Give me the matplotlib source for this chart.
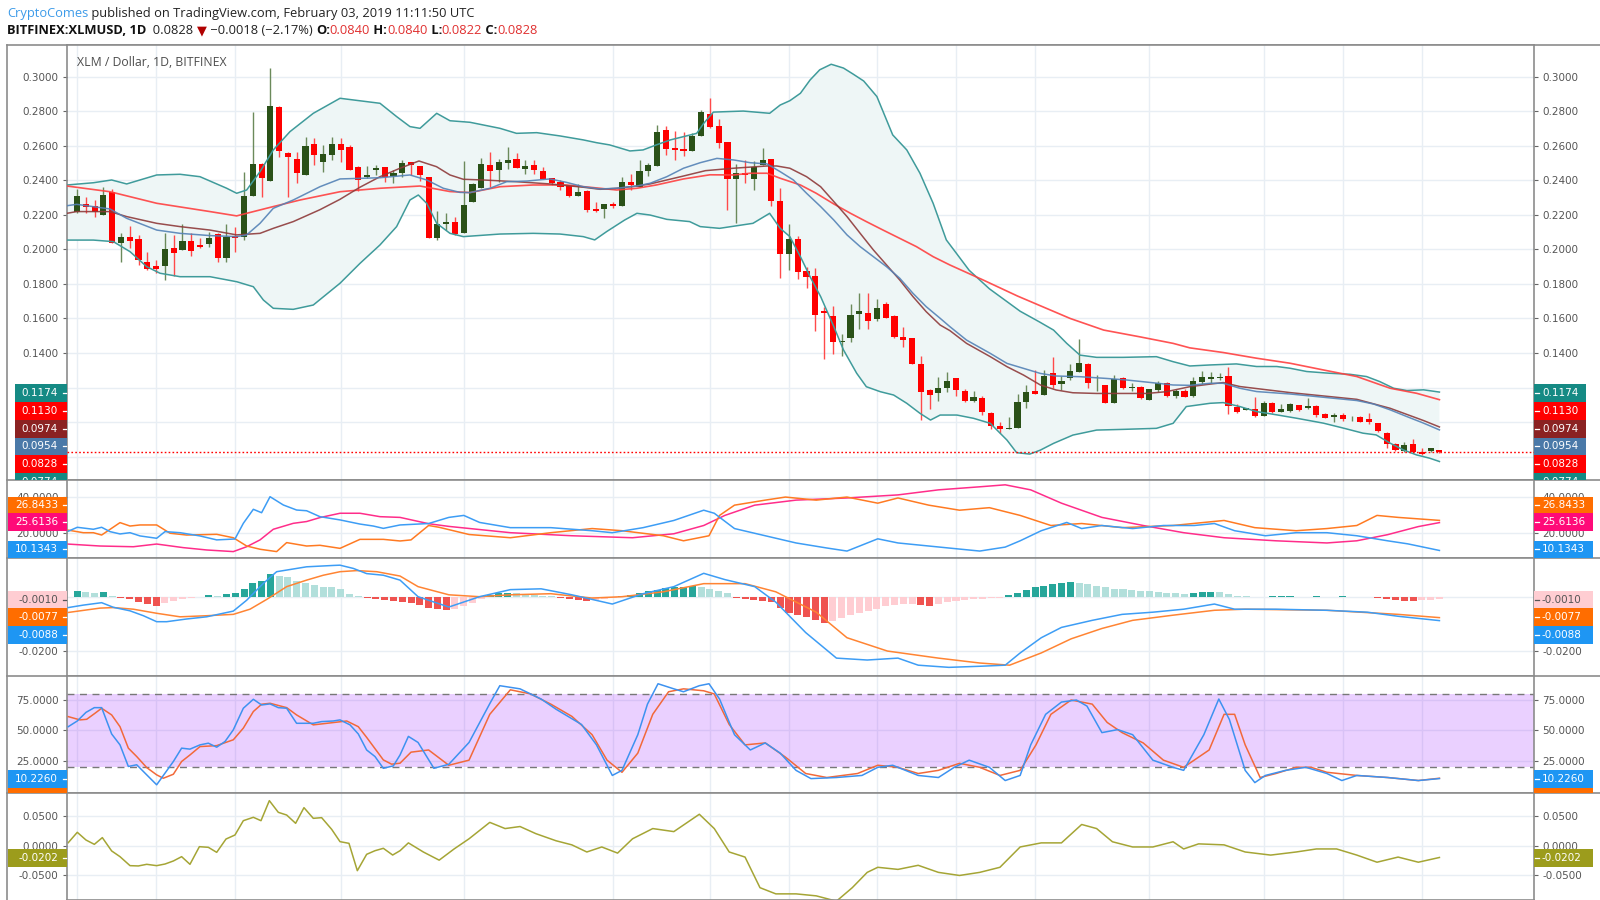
import numpy as np
import matplotlib
matplotlib.use("Agg")
import matplotlib.pyplot as plt
from matplotlib.patches import Rectangle
from matplotlib.lines import Line2D
from matplotlib.ticker import FormatStrFormatter
from matplotlib.transforms import Bbox, TransformedBbox

# ---------------- data ----------------
# daily candles, 156 days, index 0 = first visible day
opens = [
    0.2218, 0.2263, 0.2253, 0.2199, 0.2330, 0.2035, 0.2074, 0.2060, 0.1925, 0.1904,
    0.1906, 0.2006, 0.1996, 0.2049, 0.2025, 0.2029, 0.2087, 0.1948, 0.2078, 0.2074,
    0.2309, 0.2492, 0.2398, 0.2822, 0.2560, 0.2521, 0.2431, 0.2608, 0.2508, 0.2546,
    0.2608, 0.2591, 0.2475, 0.2421, 0.2460, 0.2479, 0.2425, 0.2440, 0.2504, 0.2483,
    0.2421, 0.2064, 0.2147, 0.2161, 0.2093, 0.2277, 0.2358, 0.2489, 0.2460, 0.2502,
    0.2524, 0.2468, 0.2487, 0.2454, 0.2412, 0.2390, 0.2367, 0.2309, 0.2338, 0.2232,
    0.2234, 0.2263, 0.2253, 0.2392, 0.2363, 0.2454, 0.2485, 0.2691, 0.2585, 0.2580,
    0.2570, 0.2657, 0.2782, 0.2715, 0.2620, 0.2406, 0.2444, 0.2406, 0.2487, 0.2524,
    0.2282, 0.1974, 0.2060, 0.1877, 0.1846, 0.1645, 0.1616, 0.1462, 0.1485, 0.1626,
    0.1630, 0.1595, 0.1684, 0.1616, 0.1491, 0.1485, 0.1337, 0.1186, 0.1167, 0.1196,
    0.1257, 0.1180, 0.1122, 0.1141, 0.1051, 0.0977, 0.0962, 0.0968, 0.1114, 0.1180,
    0.1157, 0.1282, 0.1218, 0.1253, 0.1292, 0.1336, 0.1224, 0.1215, 0.1108, 0.1257,
    0.1199, 0.1205, 0.1128, 0.1186, 0.1228, 0.1151, 0.1180, 0.1151, 0.1234, 0.1250,
    0.1258, 0.1269, 0.1090, 0.1073, 0.1076, 0.1038, 0.1113, 0.1061, 0.1065, 0.1100,
    0.1080, 0.1096, 0.1048, 0.1032, 0.1042, 0.1021, 0.1032, 0.1017, 0.0997, 0.0939,
    0.0874, 0.0830, 0.0874, 0.0826, 0.0833, 0.0840]
highs = [
    0.2348, 0.2305, 0.2286, 0.2363, 0.2348, 0.2093, 0.2137, 0.2083, 0.1987, 0.1938,
    0.2097, 0.2083, 0.2145, 0.2097, 0.2064, 0.2103, 0.2093, 0.2145, 0.2132, 0.2450,
    0.2797, 0.2502, 0.3048, 0.2830, 0.2566, 0.2566, 0.2653, 0.2643, 0.2604, 0.2653,
    0.2643, 0.2604, 0.2483, 0.2483, 0.2489, 0.2479, 0.2460, 0.2518, 0.2508, 0.2483,
    0.2421, 0.2222, 0.2209, 0.2190, 0.2512, 0.2383, 0.2531, 0.2562, 0.2524, 0.2591,
    0.2556, 0.2518, 0.2518, 0.2479, 0.2416, 0.2402, 0.2373, 0.2377, 0.2344, 0.2273,
    0.2261, 0.2277, 0.2421, 0.2435, 0.2518, 0.2499, 0.2720, 0.2715, 0.2688, 0.2682,
    0.2672, 0.2807, 0.2875, 0.2753, 0.2620, 0.2493, 0.2518, 0.2512, 0.2585, 0.2524,
    0.2354, 0.2145, 0.2080, 0.1900, 0.1891, 0.1669, 0.1674, 0.1510, 0.1682, 0.1746,
    0.1746, 0.1713, 0.1697, 0.1620, 0.1549, 0.1485, 0.1385, 0.1190, 0.1263, 0.1292,
    0.1257, 0.1189, 0.1182, 0.1151, 0.1056, 0.1002, 0.1027, 0.1162, 0.1215, 0.1301,
    0.1301, 0.1379, 0.1267, 0.1334, 0.1479, 0.1340, 0.1272, 0.1215, 0.1272, 0.1263,
    0.1228, 0.1209, 0.1189, 0.1240, 0.1234, 0.1189, 0.1189, 0.1259, 0.1296, 0.1293,
    0.1283, 0.1322, 0.1103, 0.1084, 0.1148, 0.1123, 0.1119, 0.1105, 0.1113, 0.1100,
    0.1138, 0.1100, 0.1051, 0.1051, 0.1051, 0.1038, 0.1036, 0.1055, 0.0997, 0.0945,
    0.0878, 0.0887, 0.0901, 0.0849, 0.0853, 0.0840]
lows = [
    0.2210, 0.2209, 0.2189, 0.2199, 0.2035, 0.1925, 0.2006, 0.1910, 0.1880, 0.1865,
    0.1823, 0.1846, 0.1996, 0.1962, 0.2006, 0.2016, 0.1929, 0.1929, 0.1983, 0.2054,
    0.2309, 0.2301, 0.2398, 0.2533, 0.2305, 0.2382, 0.2431, 0.2489, 0.2450, 0.2518,
    0.2508, 0.2460, 0.2338, 0.2411, 0.2431, 0.2392, 0.2386, 0.2421, 0.2431, 0.2398,
    0.2064, 0.2054, 0.2112, 0.2083, 0.2093, 0.2277, 0.2358, 0.2363, 0.2392, 0.2464,
    0.2470, 0.2437, 0.2435, 0.2410, 0.2373, 0.2344, 0.2306, 0.2309, 0.2215, 0.2219,
    0.2180, 0.2242, 0.2253, 0.2344, 0.2363, 0.2425, 0.2485, 0.2547, 0.2518, 0.2543,
    0.2570, 0.2657, 0.2705, 0.2589, 0.2228, 0.2155, 0.2383, 0.2344, 0.2487, 0.2253,
    0.1833, 0.1881, 0.1827, 0.1775, 0.1530, 0.1364, 0.1395, 0.1383, 0.1466, 0.1537,
    0.1537, 0.1586, 0.1601, 0.1485, 0.1437, 0.1335, 0.1012, 0.1074, 0.1124, 0.1176,
    0.1153, 0.1118, 0.1118, 0.1041, 0.0958, 0.0939, 0.0962, 0.0968, 0.1083, 0.1162,
    0.1157, 0.1195, 0.1186, 0.1244, 0.1292, 0.1195, 0.1182, 0.1108, 0.1108, 0.1189,
    0.1180, 0.1132, 0.1128, 0.1172, 0.1147, 0.1137, 0.1147, 0.1143, 0.1220, 0.1225,
    0.1241, 0.1048, 0.1051, 0.1071, 0.1028, 0.1038, 0.1055, 0.1061, 0.1061, 0.1067,
    0.1076, 0.1032, 0.1022, 0.0999, 0.1007, 0.1009, 0.0999, 0.0990, 0.0945, 0.0853,
    0.0835, 0.0829, 0.0820, 0.0810, 0.0829, 0.0822]
closes = [
    0.2309, 0.2247, 0.2218, 0.2315, 0.2035, 0.2074, 0.2050, 0.1938, 0.1886, 0.1884,
    0.2000, 0.1981, 0.2049, 0.1993, 0.2016, 0.2068, 0.1948, 0.2074, 0.2068, 0.2309,
    0.2492, 0.2411, 0.2830, 0.2572, 0.2533, 0.2440, 0.2600, 0.2546, 0.2552, 0.2608,
    0.2575, 0.2460, 0.2402, 0.2431, 0.2469, 0.2417, 0.2444, 0.2498, 0.2489, 0.2431,
    0.2064, 0.2147, 0.2159, 0.2089, 0.2257, 0.2379, 0.2495, 0.2454, 0.2508, 0.2518,
    0.2473, 0.2483, 0.2460, 0.2410, 0.2387, 0.2363, 0.2309, 0.2334, 0.2228, 0.2222,
    0.2261, 0.2252, 0.2388, 0.2373, 0.2456, 0.2487, 0.2682, 0.2581, 0.2576, 0.2568,
    0.2657, 0.2794, 0.2711, 0.2618, 0.2408, 0.2444, 0.2431, 0.2475, 0.2518, 0.2282,
    0.1974, 0.2058, 0.1867, 0.1838, 0.1620, 0.1634, 0.1462, 0.1472, 0.1620, 0.1645,
    0.1586, 0.1659, 0.1601, 0.1491, 0.1475, 0.1335, 0.1176, 0.1157, 0.1196, 0.1238,
    0.1186, 0.1122, 0.1147, 0.1060, 0.0979, 0.0962, 0.0968, 0.1118, 0.1176, 0.1162,
    0.1269, 0.1215, 0.1240, 0.1296, 0.1344, 0.1224, 0.1228, 0.1108, 0.1247, 0.1195,
    0.1205, 0.1137, 0.1189, 0.1228, 0.1151, 0.1178, 0.1147, 0.1240, 0.1263, 0.1262,
    0.1264, 0.1094, 0.1057, 0.1080, 0.1036, 0.1109, 0.1061, 0.1076, 0.1105, 0.1071,
    0.1096, 0.1042, 0.1026, 0.1040, 0.1017, 0.1026, 0.1003, 0.1000, 0.0951, 0.0872,
    0.0839, 0.0868, 0.0826, 0.0816, 0.0849, 0.0828]

# overlay lines, sampled as (candle index, value)
bb_upper = [(-1.14, .2373), (1.86, .2386), (3.94, .2402), (5.65, .2379), (9.07, .2431), (11.72, .2435),
            (13.99, .2421), (17.03, .2354), (18.16, .2325), (19.3, .2344), (20.82, .2450), (22.33, .2576),
            (24.23, .2682), (26.88, .2788), (29.92, .2875), (34.47, .2846), (36.36, .2769), (37.88, .2711),
            (39.02, .2701), (40.92, .2788), (42.43, .2745), (44.71, .2736), (48.12, .2701), (50.0, .2672),
            (52.3, .2676), (54.95, .2657), (57.6, .2634), (59.1, .2618), (60.6, .2605), (62.9, .2570),
            (64.4, .2576), (65.9, .2605), (67.5, .2634), (69.0, .2653), (70.5, .2672), (71.3, .2730),
            (72.4, .2795), (75.8, .2801), (78.8, .2788), (80.0, .2836), (81.1, .2861), (82.3, .2904),
            (83.4, .2981), (84.5, .3040), (85.8, .3072), (87.2, .3050), (88.3, .3015), (89.5, .2975),
            (91.0, .2885), (92.8, .2663), (94.4, .2576), (95.9, .2441), (97.4, .2267), (98.9, .2055),
            (101.5, .1879), (103.8, .1772), (107.3, .1642), (109.5, .1580), (111.1, .1533), (112.6, .1456),
            (114.1, .1388), (116.0, .1375), (119.0, .1375), (122.8, .1379), (124.7, .1350), (126.6, .1325),
            (128.9, .1331), (131.9, .1337), (134.2, .1322), (136.5, .1322), (138.0, .1312), (139.9, .1293),
            (142.5, .1283), (144.8, .1277), (146.7, .1264), (148.2, .1235), (149.8, .1196), (151.3, .1183),
            (153.2, .1187), (155.0, .1174)]
bb_lower = [(-1.14, .2054), (1.86, .2054), (4.13, .2045), (6.03, .1987), (7.93, .1900), (9.44, .1862),
            (11.72, .1842), (15.13, .1842), (18.16, .1813), (20.06, .1784), (21.2, .1707), (22.33, .1659),
            (24.6, .1653), (26.88, .1678), (29.92, .1804), (32.19, .1919), (34.47, .2026), (36.36, .2132),
            (37.88, .2286), (38.83, .2315), (39.78, .2267), (40.92, .2151), (42.43, .2093), (43.95, .2074),
            (48.12, .2089), (51.9, .2093), (54.95, .2089), (57.6, .2074), (58.9, .2055), (60.25, .2103),
            (62.3, .2170), (63.7, .2209), (65.2, .2199), (67.1, .2174), (69.7, .2161), (70.9, .2132),
            (73.1, .2122), (76.9, .2151), (78.8, .2209), (80.0, .2122), (81.1, .2074), (82.3, .1958),
            (83.4, .1842), (84.6, .1727), (86.1, .1553), (87.2, .1418), (88.7, .1283), (89.8, .1205),
            (91.4, .1176), (92.9, .1157), (94.4, .1109), (95.9, .1051), (97.1, .1012), (98.2, .1041),
            (100.1, .1041), (102.0, .1022), (103.9, .0993), (105.8, .0896), (106.9, .0823), (108.4, .0815),
            (109.6, .0838), (111.1, .0877), (113.3, .0925), (116.0, .0954), (119.0, .0958), (122.8, .0964),
            (124.7, .0993), (126.2, .1090), (128.9, .1109), (130.4, .1113), (132.3, .1090), (134.2, .1061),
            (136.5, .1042), (138.8, .1022), (141.8, .0994), (144.1, .0965), (146.3, .0936), (147.8, .0926),
            (149.4, .0878), (150.9, .0839), (152.4, .0810), (153.9, .0791), (155.0, .0772)]
ma_blue = [(-1.14, .2253), (-0.04, .2261), (3.75, .2234), (5.65, .2180), (9.07, .2112), (11.72, .2093),
           (15.13, .2080), (18.16, .2074), (19.3, .2084), (20.82, .2151), (22.33, .2238), (24.6, .2286),
           (27.64, .2363), (29.92, .2408), (34.47, .2415), (37.88, .2431), (39.78, .2402), (41.67, .2354),
           (43.57, .2330), (44.71, .2329), (46.98, .2354), (48.88, .2392), (51.2, .2396), (53.8, .2408),
           (55.7, .2388), (57.6, .2363), (59.5, .2350), (61.4, .2354), (63.7, .2367), (65.2, .2383),
           (67.1, .2421), (69.0, .2470), (70.9, .2502), (72.8, .2527), (74.7, .2518), (76.6, .2502),
           (78.5, .2495), (80.0, .2450), (81.5, .2402), (83.0, .2325), (84.6, .2248), (86.1, .2170),
           (87.6, .2084), (89.1, .2016), (90.6, .1958), (92.1, .1900), (93.6, .1833), (95.1, .1746),
           (96.6, .1669), (98.2, .1601), (99.3, .1553), (101.2, .1475), (103.9, .1398), (105.8, .1340),
           (107.7, .1311), (109.6, .1282), (111.4, .1267), (114.1, .1263), (117.1, .1253), (119.4, .1244),
           (122.4, .1228), (124.7, .1215), (126.6, .1213), (128.9, .1225), (130.4, .1225), (132.3, .1196),
           (134.2, .1177), (138.0, .1163), (141.8, .1144), (145.6, .1125), (147.5, .1105), (149.4, .1071),
           (151.3, .1032), (153.2, .0994), (155.0, .0955)]
ma_brown = [(-1.14, .2209), (-0.04, .2219), (3.75, .2219), (5.65, .2190), (9.07, .2151), (11.72, .2132),
            (15.13, .2112), (18.16, .2084), (20.82, .2093), (22.33, .2122), (24.6, .2161), (27.64, .2230),
            (29.92, .2290), (32.19, .2360), (34.47, .2421), (36.7, .2469), (38.9, .2512), (40.9, .2479),
            (42.43, .2431), (43.95, .2406), (46.2, .2402), (50.0, .2392), (53.8, .2379), (57.6, .2360),
            (59.5, .2348), (61.4, .2354), (63.7, .2367), (65.2, .2379), (67.1, .2402), (69.0, .2425),
            (71.5, .2456), (74.7, .2470), (78.5, .2483), (79.6, .2483), (81.1, .2470), (83.0, .2421),
            (84.6, .2363), (86.1, .2277), (87.6, .2190), (89.1, .2093), (90.6, .1997), (92.1, .1910),
            (93.6, .1823), (95.1, .1727), (96.6, .1640), (98.2, .1562), (99.3, .1530), (101.2, .1456),
            (103.9, .1379), (105.8, .1321), (107.7, .1272), (109.6, .1215), (111.4, .1186), (113.3, .1170),
            (116.0, .1166), (119.0, .1166), (121.7, .1166), (123.9, .1176), (126.6, .1205), (128.9, .1220),
            (130.4, .1229), (132.3, .1206), (138.0, .1171), (145.6, .1132), (149.4, .1080), (153.2, .1009),
            (155.0, .0972)]
ma_red = [(-1.14, .2367), (3.75, .2334), (9.07, .2267), (15.13, .2219), (18.16, .2194), (19.3, .2209),
          (22.33, .2248), (25.37, .2286), (29.92, .2334), (34.47, .2354), (39.02, .2367), (42.43, .2335),
          (44.71, .2329), (48.12, .2363), (51.9, .2373), (55.7, .2373), (59.5, .2354), (61.4, .2344),
          (63.7, .2354), (65.9, .2373), (69.0, .2408), (72.0, .2432), (74.7, .2431), (76.6, .2441),
          (78.5, .2441), (80.0, .2412), (82.3, .2373), (84.1, .2325), (86.1, .2263), (88.0, .2209),
          (89.8, .2161), (91.7, .2112), (93.6, .2064), (95.5, .2016), (97.4, .1958), (99.3, .1910),
          (103.0, .1825), (107.0, .1730), (110.0, .1665), (113.0, .1600), (116.8, .1533), (120.9, .1494),
          (124.7, .1456), (126.6, .1430), (130.4, .1403), (134.2, .1370), (138.0, .1341), (141.8, .1302),
          (145.6, .1264), (149.4, .1196), (152.4, .1167), (155.0, .1130)]
last_price = 0.0828

# DMI panel
dmi_plus = [(-1.1, 20.6), (0.03, 23.0), (1.86, 21.9), (2.8, 23.0), (3.75, 20.6), (4.89, 19.3), (6.03, 20.0),
            (7.17, 18.2), (9.06, 16.9), (10.01, 20.6), (11.72, 20.0), (13.99, 18.2), (15.89, 16.0),
            (17.97, 16.5), (18.92, 25.2), (20.06, 33.0), (21.0, 31.1), (21.96, 40.0), (23.47, 35.4),
            (24.98, 32.6), (26.12, 32.2), (27.64, 28.9), (29.92, 27.1), (32.19, 24.8), (33.71, 23.7),
            (34.85, 22.4), (36.75, 24.3), (40.0, 25.1), (42.3, 28.5), (44.0, 29.6), (45.8, 25.7),
            (49.3, 22.8), (53.9, 22.8), (58.6, 21.1), (60.9, 20.0), (64.4, 22.8), (67.9, 26.8),
            (71.3, 32.5), (72.5, 30.8), (74.8, 22.3), (78.3, 18.3), (81.8, 14.3), (85.3, 11.5),
            (87.6, 9.8), (91.1, 16.6), (93.4, 14.3), (96.9, 12.6), (100.4, 10.9), (102.7, 9.8),
            (105.6, 12.0), (107.3, 15.5), (109.7, 21.1), (112.6, 25.7), (114.3, 22.3), (116.6, 24.0),
            (120.1, 22.3), (123.6, 24.0), (127.1, 24.0), (129.4, 25.1), (131.7, 21.1), (135.2, 18.3),
            (138.7, 20.0), (142.2, 20.0), (145.6, 18.3), (149.1, 15.5), (151.4, 13.8), (155.0, 10.13)]
dmi_minus = [(-1.1, 21.5), (0.71, 20.0), (1.86, 20.0), (2.8, 18.7), (4.89, 25.6), (6.03, 23.7), (7.17, 24.3),
             (9.06, 24.3), (10.58, 19.7), (12.47, 18.7), (15.89, 19.1), (17.78, 17.2), (19.3, 12.6),
             (20.82, 10.8), (22.71, 9.5), (23.85, 14.5), (26.12, 12.6), (27.64, 13.0), (29.92, 11.3),
             (32.19, 16.3), (34.85, 16.3), (36.75, 15.4), (38.0, 16.0), (40.0, 24.0), (41.2, 23.0),
             (44.6, 19.0), (49.3, 17.2), (53.9, 20.0), (58.6, 22.3), (62.0, 21.1), (66.7, 18.3),
             (69.0, 15.5), (71.9, 18.3), (73.1, 29.6), (74.8, 35.3), (78.3, 38.1), (80.6, 39.8),
             (84.1, 38.1), (87.6, 39.8), (91.1, 36.4), (93.4, 39.3), (96.9, 35.3), (100.4, 32.5),
             (103.8, 33.9), (107.3, 29.6), (110.8, 24.0), (114.3, 25.1), (118.9, 22.8), (124.7, 24.0),
             (130.5, 26.8), (134.0, 22.8), (138.7, 21.1), (142.2, 22.3), (145.6, 24.0), (147.9, 29.6),
             (150.3, 28.5), (155.0, 26.84)]
dmi_adx = [(-1.1, 13.7), (2.61, 12.6), (6.41, 12.2), (9.06, 13.7), (12.09, 11.7), (14.75, 10.4),
           (17.78, 9.5), (19.3, 12.2), (20.82, 16.0), (22.33, 21.9), (24.6, 25.2), (26.12, 26.2),
           (27.64, 28.4), (29.92, 30.8), (32.19, 30.8), (34.47, 28.9), (36.75, 28.5), (40.0, 25.0),
           (42.3, 23.5), (49.3, 20.0), (56.3, 18.3), (63.2, 17.2), (67.9, 19.4), (71.3, 24.0),
           (73.7, 29.6), (77.1, 35.3), (81.8, 38.1), (87.6, 39.3), (93.4, 41.0), (98.0, 43.8),
           (102.7, 45.5), (105.6, 46.6), (108.5, 43.8), (112.0, 36.4), (116.6, 28.5), (121.3, 24.0),
           (125.9, 20.0), (130.5, 17.2), (136.4, 15.5), (142.2, 14.3), (145.6, 15.5), (149.1, 18.9),
           (152.6, 23.4), (155.0, 25.61)]

# MACD panel
macd_line = [(-1.0, -.0040), (0.71, -.0031), (2.8, -.0022), (4.13, -.0039), (6.03, -.0052), (7.55, -.0070),
             (9.06, -.0092), (10.2, -.0092), (12.47, -.0082), (14.75, -.0074), (17.78, -.0053),
             (19.3, -.0013), (21.2, .0049), (22.71, .0092), (24.23, .0100), (26.12, .0110), (29.16, .0115),
             (29.92, .0116), (31.44, .0104), (32.95, .0085), (34.85, .0079), (36.75, .0061), (38.8, .0000),
             (42.3, -.0038), (45.8, .0000), (49.3, .0026), (52.8, .0029), (56.3, .0007), (60.9, -.0027),
             (64.4, .0011), (67.9, .0037), (71.3, .0086), (73.7, .0063), (77.1, .0037), (79.5, -.0020),
             (82.9, -.0132), (86.4, -.0226), (89.9, -.0233), (93.4, -.0226), (95.7, -.0252), (99.2, -.0260),
             (102.7, -.0256), (105.6, -.0252), (107.3, -.0207), (109.7, -.0151), (112.0, -.0113),
             (115.5, -.0087), (118.9, -.0065), (122.4, -.0057), (125.9, -.0046), (129.4, -.0027),
             (131.7, -.0046), (136.4, -.0046), (142.2, -.0050), (146.8, -.0057), (150.3, -.0072),
             (155.0, -.0088)]
macd_signal = [(-1.0, -.0058), (2.61, -.0042), (4.13, -.0040), (6.41, -.0046), (9.06, -.0061), (11.72, -.0074),
               (14.75, -.0070), (17.78, -.0065), (19.68, -.0046), (21.58, -.0010), (23.85, .0037),
               (26.12, .0061), (28.02, .0079), (29.92, .0092), (31.82, .0096), (34.09, .0092), (36.75, .0076),
               (38.8, .0037), (42.3, .0007), (45.8, .0000), (49.3, .0007), (53.9, .0011), (58.6, -.0005),
               (62.0, .0000), (66.7, .0018), (71.3, .0048), (76.0, .0048), (79.5, .0018), (84.1, -.0057),
               (87.6, -.0151), (92.2, -.0200), (98.0, -.0226), (102.7, -.0244), (106.1, -.0252),
               (109.7, -.0207), (113.1, -.0155), (116.6, -.0117), (120.1, -.0087), (124.7, -.0068),
               (129.4, -.0050), (132.9, -.0046), (142.2, -.0050), (150.3, -.0065), (155.0, -.0077)]
macd_hist = [
    .0022, .0016, .0012, .0018, .0002, -.0006, -.0010, -.0021, -.0028, -.0033,
    -.0025, -.0016, -.0010, -.0006, .0000, .0006, .0002, .0010, .0013, .0029,
    .0051, .0057, .0082, .0078, .0071, .0057, .0049, .0043, .0037, .0034,
    .0027, .0010, .0001, -.0006, -.0010, -.0012, -.0016, -.0018, -.0022, -.0030,
    -.0040, -.0046, -.0050, -.0047, -.0035, -.0022, -.0010, .0005, .0012, .0015,
    .0013, .0010, .0008, .0004, .0001, -.0004, -.0008, -.0012, -.0015, -.0012,
    -.0008, -.0003, .0002, .0008, .0015, .0022, .0026, .0031, .0034, .0036,
    .0038, .0035, .0028, .0020, .0012, -.0004, -.0010, -.0012, -.0014, -.0020,
    -.0040, -.0060, -.0068, -.0075, -.0085, -.0098, -.0090, -.0078, -.0068, -.0060,
    -.0052, -.0044, -.0036, -.0030, -.0028, -.0026, -.0030, -.0033, -.0026, -.0020,
    -.0016, -.0013, -.0010, -.0008, -.0006, -.0004, .0006, .0014, .0025, .0034,
    .0040, .0046, .0050, .0055, .0052, .0046, .0040, .0034, .0030, .0027,
    .0024, .0022, .0020, .0018, .0015, .0012, .0011, .0014, .0016, .0018,
    .0016, .0010, .0004, .0001, -.0002, .0000, .0001, .0001, .0001, .0000,
    .0000, .0001, .0000, .0000, .0001, .0000, -.0001, -.0002, -.0006, -.0010,
    -.0012, -.0014, -.0014, -.0013, -.0011, -.0010]

# Stochastic panel
stoch_k = [(-1.0, 53.0), (0.03, 57.7), (1.02, 64.8), (1.97, 68.7), (2.8, 68.7), (3.94, 47.0), (4.89, 38.0),
           (5.84, 20.2), (6.79, 21.6), (7.93, 13.3), (9.06, 5.1), (10.01, 14.7), (10.96, 24.3), (11.9, 35.3),
           (12.85, 34.5), (13.99, 38.0), (14.94, 39.4), (15.89, 36.1), (16.84, 40.8), (17.78, 50.4),
           (18.92, 68.2), (20.06, 75.6), (21.0, 70.9), (21.96, 71.8), (22.9, 68.7), (23.85, 68.2),
           (24.98, 55.8), (26.88, 55.8), (27.83, 57.2), (29.16, 57.7), (29.92, 58.6), (31.06, 54.5),
           (32.0, 47.0), (32.95, 33.8), (33.9, 28.4), (34.85, 18.7), (35.99, 20.7), (36.75, 29.7),
           (37.7, 45.0), (38.8, 40.0), (40.6, 18.7), (42.3, 22.0), (44.6, 40.0), (46.96, 72.0),
           (48.1, 86.8), (50.4, 84.2), (52.8, 75.8), (54.5, 67.4), (57.4, 54.8), (59.1, 38.0),
           (60.9, 12.8), (62.0, 17.0), (63.8, 46.4), (64.9, 71.6), (66.1, 88.4), (67.9, 84.2),
           (69.0, 81.8), (70.8, 86.8), (71.9, 88.4), (73.1, 75.8), (74.8, 46.4), (76.6, 33.8),
           (78.3, 39.6), (80.0, 31.2), (81.8, 17.0), (83.5, 10.2), (86.4, 11.1), (89.3, 12.8),
           (91.1, 19.5), (92.8, 21.2), (95.7, 12.8), (98.0, 11.1), (99.8, 19.5), (101.5, 25.4),
           (103.8, 19.5), (105.6, 8.6), (107.3, 12.8), (108.5, 38.0), (110.2, 63.2), (112.0, 73.3),
           (113.7, 75.0), (114.9, 70.0), (116.6, 48.1), (118.4, 50.6), (120.1, 46.4), (122.4, 25.4),
           (124.7, 19.5), (125.9, 17.0), (128.2, 46.4), (129.9, 75.8), (131.1, 59.0), (132.9, 17.0),
           (134.0, 6.9), (135.2, 12.8), (137.5, 17.0), (139.8, 19.5), (142.2, 14.4), (143.9, 8.6),
           (145.6, 12.8), (149.1, 11.1), (152.6, 8.6), (155.0, 10.23)]
stoch_d = [(-1.0, 61.3), (0.34, 58.6), (1.1, 59.1), (2.05, 64.1), (2.8, 68.2), (3.94, 62.7), (4.89, 53.0),
           (5.84, 35.3), (6.79, 28.4), (7.93, 19.3), (9.06, 13.3), (9.82, 10.5), (10.96, 13.8), (11.9, 24.3),
           (12.85, 29.7), (13.99, 36.6), (15.89, 37.4), (17.78, 42.2), (18.92, 51.8), (20.06, 65.5),
           (21.0, 71.5), (21.96, 72.3), (23.85, 68.7), (24.98, 62.7), (26.88, 54.5), (29.16, 56.4),
           (30.68, 57.7), (32.0, 53.0), (32.95, 44.2), (34.85, 25.6), (35.79, 22.1), (36.75, 22.9),
           (38.0, 32.0), (40.0, 33.8), (42.3, 21.2), (44.6, 25.4), (46.96, 63.2), (49.3, 83.4),
           (51.6, 80.0), (53.9, 71.6), (56.3, 61.5), (58.6, 46.4), (60.3, 25.4), (62.0, 15.4),
           (63.8, 31.2), (65.5, 63.2), (67.3, 81.8), (69.0, 84.2), (71.3, 82.6), (72.5, 80.0),
           (74.2, 54.8), (76.0, 38.0), (78.3, 39.6), (80.6, 27.9), (82.9, 14.4), (85.3, 11.1),
           (88.8, 14.4), (91.1, 21.2), (93.4, 19.5), (95.7, 14.4), (98.0, 17.0), (100.4, 22.8),
           (102.7, 19.5), (105.0, 12.8), (107.3, 17.0), (109.1, 38.0), (110.8, 63.2), (113.1, 75.0),
           (115.5, 71.6), (117.2, 56.5), (118.9, 48.1), (121.3, 39.6), (123.6, 25.4), (125.9, 19.5),
           (128.8, 33.8), (130.5, 63.2), (131.7, 63.2), (132.9, 38.0), (134.6, 11.1), (136.4, 14.4),
           (138.7, 19.5), (140.4, 19.5), (142.2, 15.4), (145.6, 12.8), (149.1, 11.1), (152.6, 8.6),
           (155.0, 10.5)]

# Momentum panel
momentum = [(-1.0, .0051), (0.03, .0229), (1.02, .0097), (1.97, .0023), (2.88, .0138), (3.94, -.0090),
            (4.89, -.0188), (6.03, -.0342), (6.98, -.0347), (7.93, -.0319), (9.06, -.0342), (10.01, -.0314),
            (10.96, -.0262), (11.9, -.0188), (12.85, -.0319), (13.92, -.0017), (14.94, -.0028),
            (15.89, -.0114), (16.95, .0114), (17.97, .0183), (18.92, .0428), (20.06, .0486), (20.93, .0428),
            (21.88, .0771), (22.9, .0571), (23.85, .0525), (24.87, .0383), (25.82, .0651), (26.88, .0468),
            (27.83, .0480), (28.97, .0280), (29.92, .0069), (30.94, .0040), (31.89, -.0428), (32.95, -.0148),
            (33.9, -.0086), (34.85, -.0045), (35.91, -.0160), (36.75, -.0086), (37.7, .0048), (39.4, -.0108),
            (41.2, -.0248), (42.9, -.0056), (44.6, .0118), (46.96, .0399), (48.7, .0293), (50.4, .0328),
            (52.2, .0206), (54.5, .0084), (56.3, .0014), (58.0, -.0108), (59.7, -.0022), (61.5, -.0127),
            (63.2, .0118), (65.5, .0293), (67.9, .0241), (70.8, .0538), (72.5, .0293), (74.2, -.0108),
            (76.0, -.0195), (77.7, -.0719), (79.5, -.0825), (81.8, -.0825), (84.1, -.0859), (86.4, -.0950),
            (88.2, -.0719), (89.9, -.0457), (91.1, -.0370), (93.4, -.0406), (95.7, -.0336), (98.0, -.0457),
            (100.4, -.0510), (102.7, -.0457), (105.0, -.0370), (107.3, -.0022), (109.7, .0048), (112.0, .0048),
            (114.3, .0363), (116.0, .0293), (117.8, .0067), (120.1, -.0022), (122.4, -.0022), (124.7, .0067),
            (125.9, -.0056), (127.6, .0031), (130.5, .0014), (132.9, -.0108), (135.8, -.0161),
            (138.7, -.0108), (141.0, -.0056), (143.3, -.0056), (145.6, -.0161), (147.9, -.0283),
            (150.3, -.0195), (152.6, -.0283), (155.0, -.0202)]

# vertical grid positions (candle index) and scale labels
grid_days = [0, 9, 18, 30, 44, 61, 72, 81, 91, 100, 109, 122, 135, 144, 153]
main_labels = ["0.1174", "0.1130", "0.0974", "0.0954", "0.0828", "0.0774"]
dmi_labels = ["26.8433", "25.6136", "10.1343"]
macd_labels = ["-0.0010", "-0.0077", "-0.0088"]
stoch_label = "10.2260"
mom_label = "-0.0202"

# ---------------- drawing ----------------
W, H = 1600, 900
X0, X1 = 67, 1534
fig = plt.figure(figsize=(16, 9), dpi=100)
fig.patch.set_facecolor("white")


def fy(y):
    return 1 - y / H


def panel(top, bottom):
    return fig.add_axes([X0 / W, fy(bottom), (X1 - X0) / W, (bottom - top) / H])


ax_main = panel(45, 480)
ax_dmi = panel(480, 558)
ax_macd = panel(558, 676)
ax_st = panel(676, 793)
ax_mom = panel(793, 900)

GRID = "#e8eef4"
SPINE = "#8c8c8c"


def style(ax, ylim, yticks, hidden=()):
    # hidden: grid levels whose scale text sits under a value tag
    ax.set_xlim(-1.14, 165.76)
    ax.set_ylim(*ylim)
    ax.set_yticks(yticks)
    ax.set_yticks(list(hidden), minor=True)
    ax.yaxis.set_major_formatter(FormatStrFormatter("%.4f"))
    ax.set_xticks(grid_days)
    ax.tick_params(axis="x", length=0, labelbottom=False)
    ax.tick_params(axis="y", left=True, right=True, labelleft=True, labelright=True,
                   direction="out", length=2.6, width=0.8, color="#666666",
                   labelsize=7.5, labelcolor="#555555", pad=3.4)
    ax.tick_params(axis="y", which="minor", length=0, labelleft=False, labelright=False)
    ax.grid(True, which="both", color=GRID, lw=1.0)
    ax.set_axisbelow(True)
    for s in ax.spines.values():
        s.set_color(SPINE)
        s.set_linewidth(1.2)


def xy(pairs):
    a = np.array(pairs, dtype=float)
    return a[:, 0], a[:, 1]


idx = np.arange(len(opens))
o, h, l, c = map(np.array, (opens, highs, lows, closes))

# main panel
style(ax_main, (0.06649, 0.31835), np.arange(0.14, 0.3001, 0.02), hidden=(0.08, 0.10, 0.12))
ux, uy = xy(bb_upper)
lx, ly = xy(bb_lower)
ax_main.fill(np.r_[ux, lx[::-1]], np.r_[uy, ly[::-1]], color="#eef6f6", lw=0, zorder=1)
ax_main.plot(ux, uy, color="#3f9b9b", lw=1.1, zorder=4)
ax_main.plot(lx, ly, color="#3f9b9b", lw=1.1, zorder=4)

up = c >= o
wick_col = np.where(up, "#6b8a5b", "#ff4a4a")
body_col = np.where(up, "#2a5118", "#ff0000")
ax_main.vlines(idx, l, h, colors=wick_col, lw=1.0, zorder=2)
body_lo = np.minimum(o, c)
body_h = np.maximum(np.abs(c - o), 0.0005)
ax_main.bar(idx, body_h, bottom=body_lo, width=0.7, color=body_col, lw=0, zorder=3)

for pairs, col, lw in ((ma_red, "#ff4040", 1.2), (ma_brown, "#8e3a3a", 1.1), (ma_blue, "#5482b6", 1.1)):
    px, py = xy(pairs)
    ax_main.plot(px, py, color=col, lw=lw, zorder=4, alpha=0.9)
ax_main.axhline(last_price, color="#ff0000", lw=1.0, ls=(0, (1.2, 1.6)), zorder=5)

# DMI
style(ax_dmi, (5.94, 49.28), [20, 40])
for pairs, col in ((dmi_adx, "#ff2d8a"), (dmi_minus, "#ff7a22"), (dmi_plus, "#3d9df5")):
    px, py = xy(pairs)
    ax_dmi.plot(px, py, color=col, lw=1.1)

# MACD
style(ax_macd, (-0.02918, 0.01424), [-0.02], hidden=(0.0,))
hist = np.array(macd_hist)
prev = np.r_[hist[0], hist[:-1]]
hcol = np.where(hist >= 0, np.where(hist >= prev, "#26a69a", "#b2dfdb"),
                np.where(hist <= prev, "#ef5350", "#ffcdd2"))
ax_macd.bar(idx, hist, width=0.8, color=hcol, lw=0, zorder=2)
for pairs, col in ((macd_signal, "#ff8433"), (macd_line, "#3d9df5")):
    px, py = xy(pairs)
    ax_macd.plot(px, py, color=col, lw=1.1, zorder=3)

# Stochastic
style(ax_st, (-1.67, 94.79), [25, 50, 75])
ax_st.axhspan(20, 80, color="#9915ff", alpha=0.2, lw=0, zorder=0.6)
for lvl in (20, 80):
    ax_st.axhline(lvl, color="#787878", lw=1.0, ls=(0, (5, 4)), zorder=1)
for pairs, col in ((stoch_d, "#f2693a"), (stoch_k, "#3d92f0")):
    px, py = xy(pairs)
    ax_st.plot(px, py, color=col, lw=1.1, zorder=3)

# Momentum
style(ax_mom, (-0.0930, 0.0902), [-0.05, 0.0, 0.05])
px, py = xy(momentum)
ax_mom.plot(px, py, color="#a5a535", lw=1.1)

# frame lines that run past the panels
for yy in (45, 480, 558, 676, 793):
    fig.add_artist(Line2D([7 / W, 1.0], [fy(yy), fy(yy)], color=SPINE, lw=1.2, zorder=0))
fig.add_artist(Line2D([7 / W, 7 / W], [fy(45), 0], color=SPINE, lw=1.2, zorder=0))


def clip_to(top, bottom):
    return TransformedBbox(Bbox([[0, fy(bottom)], [1, fy(top)]]), fig.transFigure)


def scale_label(y0, y1, text, fc, tc="white", clip=None):
    width = 52 if len(text) <= 6 else 59
    yc = (y0 + y1) / 2
    for side in ("left", "right"):
        if side == "left":
            bx0, bx1 = X0 - width, X0
            tx, ha = X0 - 9, "right"
            tk = [X0 - 4.5, X0 - 1]
        else:
            bx0, bx1 = X1, X1 + width
            tx, ha = X1 + 8, "left"
            tk = [X1 + 1, X1 + 4.5]
        r = Rectangle((bx0 / W, fy(y1)), (bx1 - bx0) / W, (y1 - y0) / H,
                      transform=fig.transFigure, facecolor=fc, edgecolor="none", zorder=10)
        ln = Line2D([tk[0] / W, tk[1] / W], [fy(yc), fy(yc)], color=tc, lw=0.9, zorder=11)
        fig.add_artist(r)
        fig.add_artist(ln)
        t = fig.text(tx / W, fy(yc), text, color=tc, fontsize=7.5, ha=ha, va="center", zorder=12)
        if clip is not None:
            for a in (r, ln, t):
                a.set_clip_box(clip)
                a.set_clip_on(True)


main_clip = clip_to(45, 480)
main_cols = ["#158a84", "#ff0000", "#8b2222", "#4a79a8", "#ff0000", "#158a84"]
for k, (txt, col) in enumerate(zip(main_labels, main_cols)):
    y0 = 384 + 17.85 * k
    scale_label(y0, y0 + 17.85, txt, col, clip=main_clip)

scale_label(496.7, 513.0, dmi_labels[0], "#ff6d00")
scale_label(513.0, 531.0, dmi_labels[1], "#ff0a78")
scale_label(540.7, 557.7, dmi_labels[2], "#1e96f3")

scale_label(591.0, 608.3, macd_labels[0], "#ffcdd2", tc="#555555")
scale_label(608.3, 626.0, macd_labels[1], "#ff6d00")
scale_label(626.0, 644.3, macd_labels[2], "#1e96f3")

scale_label(770.0, 788.0, stoch_label, "#1e96f3")
st_clip = clip_to(676, 793)
for bx0, bx1 in ((X0 - 59, X0), (X1, X1 + 59)):
    r = Rectangle((bx0 / W, fy(806)), (bx1 - bx0) / W, 18 / H, transform=fig.transFigure,
                  facecolor="#ff6d00", edgecolor="none", zorder=10)
    r.set_clip_box(st_clip)
    r.set_clip_on(True)
    fig.add_artist(r)

scale_label(849.3, 867.3, mom_label, "#9c9c1c")

# header and chart title
renderer = fig.canvas.get_renderer()
HFONT = ["Open Sans", "DejaVu Sans"]


def chain(x, y, parts, size=9.3):
    for s, col, wt in parts:
        t = fig.text(x / W, fy(y), s, color=col, fontsize=size, fontweight=wt,
                     ha="left", va="center", family=HFONT)
        x += t.get_window_extent(renderer=renderer).width


chain(7, 14, [("CryptoComes", "#3d9be9", "normal"),
              (" published on TradingView.com, February 03, 2019 11:11:50 UTC", "#222222", "normal")])
chain(7, 31, [("BITFINEX:XLMUSD, 1D", "#111111", "bold"),
              ("  0.0828 ", "#222222", "normal"),
              ("\u25bc", "#b00000", "normal"),
              (" \u22120.0018 (\u22122.17%) ", "#222222", "normal"),
              ("O:", "#111111", "bold"), ("0.0840", "#e03030", "normal"),
              (" H:", "#111111", "bold"), ("0.0840", "#e03030", "normal"),
              (" L:", "#111111", "bold"), ("0.0822", "#e03030", "normal"),
              (" C:", "#111111", "bold"), ("0.0828", "#e03030", "normal")])
fig.text(77 / W, fy(63), "XLM / Dollar, 1D, BITFINEX", color="#4d4d4d", fontsize=8.8,
         ha="left", va="center", family=HFONT)

fig.savefig("out.png", dpi=100, facecolor="white")
